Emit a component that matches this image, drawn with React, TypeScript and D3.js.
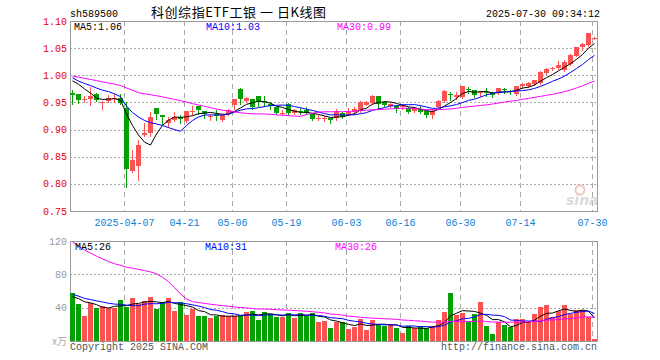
import React from "react";
import * as d3 from "d3";

// ---------- data ----------
const dates = [
  "2025-03-24","2025-03-25","2025-03-26","2025-03-27","2025-03-28","2025-03-31",
  "2025-04-01","2025-04-02","2025-04-03","2025-04-07","2025-04-08","2025-04-09","2025-04-10","2025-04-11",
  "2025-04-14","2025-04-15","2025-04-16","2025-04-17","2025-04-18","2025-04-21","2025-04-22","2025-04-23",
  "2025-04-24","2025-04-25","2025-04-28","2025-04-29","2025-04-30",
  "2025-05-06","2025-05-07","2025-05-08","2025-05-09","2025-05-12","2025-05-13","2025-05-14","2025-05-15",
  "2025-05-16","2025-05-19","2025-05-20","2025-05-21","2025-05-22","2025-05-23","2025-05-26","2025-05-27",
  "2025-05-28","2025-05-29","2025-05-30",
  "2025-06-03","2025-06-04","2025-06-05","2025-06-06","2025-06-09","2025-06-10","2025-06-11","2025-06-12",
  "2025-06-13","2025-06-16","2025-06-17","2025-06-18","2025-06-19","2025-06-20","2025-06-23","2025-06-24",
  "2025-06-25","2025-06-26","2025-06-27","2025-06-30",
  "2025-07-01","2025-07-02","2025-07-03","2025-07-04","2025-07-07","2025-07-08","2025-07-09","2025-07-10",
  "2025-07-11","2025-07-14","2025-07-15","2025-07-16","2025-07-17","2025-07-18","2025-07-21","2025-07-22",
  "2025-07-23","2025-07-24","2025-07-25","2025-07-28","2025-07-29","2025-07-30",
];

const open = [
  0.968,0.965,0.955,0.956,0.966,0.950,0.952,0.956,0.958,0.940,
  0.823,0.833,0.890,0.893,0.940,0.927,0.912,0.917,0.924,0.916,
  0.932,0.943,0.934,0.924,0.929,0.917,0.928,0.946,0.975,0.953,
  0.957,0.961,0.952,0.948,0.941,0.929,0.947,0.930,0.935,0.936,
  0.928,0.920,0.921,0.921,0.922,0.930,0.928,0.932,0.935,0.946,
  0.949,0.961,0.951,0.943,0.944,0.943,0.940,0.935,0.938,0.934,
  0.926,0.942,0.952,0.966,0.960,0.960,0.974,0.972,0.967,0.969,
  0.968,0.968,0.975,0.971,0.966,0.980,0.981,0.984,0.985,1.005,
  1.012,1.013,1.010,1.021,1.036,1.052,1.056,1.068,
];
const high = [
  0.972,0.966,0.962,0.978,0.968,0.953,0.964,0.965,0.965,0.950,
  0.862,0.881,0.912,0.932,0.940,0.927,0.924,0.933,0.926,0.935,
  0.943,0.944,0.934,0.929,0.936,0.928,0.938,0.957,0.976,0.960,
  0.957,0.962,0.961,0.951,0.942,0.936,0.949,0.938,0.940,0.941,
  0.929,0.926,0.925,0.922,0.937,0.932,0.940,0.941,0.952,0.952,
  0.963,0.962,0.953,0.949,0.946,0.948,0.941,0.942,0.943,0.935,
  0.937,0.954,0.972,0.970,0.969,0.981,0.978,0.973,0.971,0.976,
  0.969,0.977,0.977,0.973,0.981,0.985,0.987,0.992,1.008,1.013,
  1.016,1.026,1.029,1.039,1.053,1.059,1.077,1.070,
];
const low = [
  0.947,0.949,0.950,0.945,0.952,0.937,0.950,0.951,0.947,0.794,
  0.822,0.807,0.888,0.889,0.920,0.911,0.905,0.915,0.912,0.914,
  0.928,0.929,0.921,0.917,0.917,0.915,0.926,0.938,0.948,0.951,
  0.937,0.943,0.944,0.937,0.928,0.926,0.928,0.929,0.929,0.928,
  0.917,0.917,0.915,0.913,0.917,0.922,0.926,0.929,0.932,0.945,
  0.948,0.938,0.944,0.941,0.932,0.938,0.931,0.933,0.930,0.923,
  0.922,0.941,0.951,0.955,0.957,0.958,0.967,0.960,0.961,0.961,
  0.960,0.966,0.968,0.965,0.964,0.977,0.979,0.983,0.984,1.003,
  1.010,1.011,1.008,1.019,1.035,1.046,1.054,1.066,
];
const close = [
  0.964,0.954,0.956,0.962,0.954,0.951,0.958,0.959,0.949,0.827,
  0.844,0.871,0.893,0.923,0.928,0.924,0.918,0.923,0.919,0.934,
  0.934,0.936,0.929,0.925,0.925,0.926,0.936,0.956,0.956,0.958,
  0.941,0.951,0.950,0.943,0.930,0.9305,0.930,0.936,0.932,0.931,
  0.920,0.921,0.922,0.917,0.935,0.924,0.933,0.938,0.951,0.951,
  0.961,0.948,0.946,0.948,0.938,0.944,0.933,0.940,0.932,0.926,
  0.935,0.953,0.971,0.964,0.964,0.980,0.972,0.964,0.969,0.967,
  0.964,0.976,0.972,0.970,0.980,0.984,0.985,0.991,1.006,1.012,
  1.013,1.019,1.025,1.037,1.052,1.058,1.077,1.069,
];
const volume = [
  57.6,44.4,30,46,40,42,40,40,49,41,
  51.6,44,48,52.8,38.4,46.8,51.6,36,46.8,31.2,
  38.4,30,30,28,30,31,30,30,30,35,
  36,25.6,35,32,29,29,33.6,28,33.6,30,
  33.6,23,24,16,23,23,14,16.8,26,13,
  25,19,18,20,15.6,9.6,17.6,15.6,17.6,15.6,
  18,25,34.8,57.6,31.2,33.6,22.8,32.4,46.8,18,
  8.4,22.8,19.2,16.8,26.4,26.4,22.8,32.4,40.8,43.2,
  28.8,36,43.2,32.4,37.2,37.2,28.8,2.4,
];
// sessions before the visible window (estimated from the moving-average lines)
const priorClose = [
  1.02,1.02,1.02,1.02,1.02,1.02,1.02,1.025,0.965,0.975,
  1.0,0.955,0.975,0.98,0.99,0.99,0.99,0.99,1.015,1.015,
  1.015,1.0,1.0,1.0,0.99,0.985,1.0,1.0,1.0,
];
const priorVolume = [
  190,170,160,150,140,140,115,105,110,90,
  85,90,100,110,170,210,250,270,220,130,
  65,58,60,55,56,55,50,52,51,
];

const tickDates = ["2025-04-07","2025-04-21","2025-05-06","2025-05-19","2025-06-03","2025-06-16","2025-06-30","2025-07-14","2025-07-30"];
const tickLabels = ["2025-04-07","04-21","05-06","05-19","06-03","06-16","06-30","07-14","07-30"];
const priceTicks = [0.75,0.80,0.85,0.90,0.95,1.00,1.05,1.10];
const volumeTicks = [40,80,120];
const maPeriods = [5,10,30];
const maNames = ["MA5","MA10","MA30"];
const priceMaText = ["1.06","1.03","0.99"];
const volumeMaText = ["26","31","26"];

// ---------- styling ----------
const W = 660, H = 360;
const LEFT = 70, RIGHT = 598;
const P_TOP = 21, P_BOT = 211, V_TOP = 241, V_BOT = 341;
const RED = "#fb5252", GREEN = "#04a004";
const MA_COLORS = ["#000000", "#0000ff", "#ff00ff"];
const MONO = "'Liberation Mono','DejaVu Sans Mono',monospace";
const GRID = "#a8a8a8";

function movingAverage(prior: number[], values: number[], n: number) {
  const all = prior.concat(values);
  return values.map((_, i) => {
    const k = i + prior.length;
    return d3.mean(all.slice(k - n + 1, k + 1)) as number;
  });
}

export default function App() {
  const x = d3.scaleBand<string>().domain(dates).range([LEFT, RIGHT]).padding(0);
  const y = d3.scaleLinear().domain([0.75, 1.1]).range([P_BOT, P_TOP]);
  const yv = d3.scaleLinear().domain([0, 120]).range([V_BOT, V_TOP]);
  const cx = (d: string) => (x(d) as number) + 2.5;

  const priceMAs = maPeriods.map((n) => movingAverage(priorClose, close, n));
  const volMAs = maPeriods.map((n) => movingAverage(priorVolume, volume, n));

  const lineP = d3.line<number>().x((_, i) => cx(dates[i])).y((v) => y(v));
  const lineV = d3.line<number>().x((_, i) => cx(dates[i])).y((v) => yv(v));

  const crisp = (v: number) => Math.round(v) + 0.5;

  return (
    <svg width={W} height={H} style={{ position: "absolute", left: 0, top: 0, background: "#fff" }}
      xmlns="http://www.w3.org/2000/svg">
      <rect x={0} y={0} width={W} height={H} fill="#fff" />

      {/* header */}
      <text x={70} y={17} fontFamily={MONO} fontSize={10} fill="#000">sh589500</text>
      <text x={151} y={17} fontFamily="'Noto Sans CJK SC',sans-serif" fontSize={13} fill="#000"
        textLength={175} lengthAdjust="spacing" xmlSpace="preserve">科创综指ETF工银 一 日K线图</text>
      <text x={600} y={17} fontFamily={MONO} fontSize={10} fill="#000" textAnchor="end">2025-07-30 09:34:12</text>

      {/* horizontal grids */}
      {priceTicks.slice(1, -1).map((t) => (
        <line key={"pg" + t} x1={LEFT} x2={RIGHT} y1={crisp(y(t))} y2={crisp(y(t))}
          stroke={GRID} strokeDasharray="2,2" />
      ))}
      {volumeTicks.slice(0, -1).map((t) => (
        <line key={"vg" + t} x1={LEFT} x2={RIGHT} y1={crisp(yv(t))} y2={crisp(yv(t))}
          stroke={GRID} strokeDasharray="2,2" />
      ))}
      {/* vertical grids */}
      {tickDates.map((d) => (
        <g key={"vx" + d}>
          <line x1={(x(d) as number) + 0.5} x2={(x(d) as number) + 0.5} y1={P_TOP} y2={P_BOT}
            stroke={GRID} strokeDasharray="5,4" />
          <line x1={(x(d) as number) + 0.5} x2={(x(d) as number) + 0.5} y1={V_TOP} y2={V_BOT}
            stroke={GRID} strokeDasharray="5,4" />
        </g>
      ))}

      {/* frames */}
      <rect x={LEFT + 0.5} y={P_TOP + 0.5} width={RIGHT - LEFT - 1} height={P_BOT - P_TOP} fill="none" stroke="#999" />
      <rect x={LEFT + 0.5} y={V_TOP + 0.5} width={RIGHT - LEFT - 1} height={V_BOT - V_TOP} fill="none" stroke="#999" />

      {/* y labels */}
      {priceTicks.map((t) => (
        <text key={"pl" + t} x={67} y={y(t)} dy="0.35em" textAnchor="end" fontFamily={MONO}
          fontSize={10} fill="#e80000">{t.toFixed(2)}</text>
      ))}
      {volumeTicks.map((t) => (
        <text key={"vl" + t} x={67} y={yv(t)} dy="0.35em" textAnchor="end" fontFamily={MONO}
          fontSize={10} fill="#999">{t}</text>
      ))}
      <text x={67} y={yv(0)} dy="0.35em" textAnchor="end" fontFamily="'Noto Sans CJK SC',sans-serif"
        fontSize={10} fill="#aaa">x万</text>

      {/* x labels */}
      {tickDates.map((d, i) => (
        <text key={"xl" + d} x={(x(d) as number) + 0.5} y={226} textAnchor="middle" fontFamily={MONO}
          fontSize={10} fill="#0a82d2">{tickLabels[i]}</text>
      ))}

      {/* watermark */}
      <g opacity={0.75}>
        <circle cx={580} cy={190} r={4.5} fill="none" stroke="#f2b3b3" strokeWidth={2} />
        <text x={566} y={205} fontFamily="'DejaVu Sans',sans-serif" fontStyle="italic" fontWeight="bold"
          fontSize={14} fill="#cfcfcf">sina</text>
      </g>

      {/* candles */}
      {dates.map((d, i) => {
        const up = close[i] >= open[i];
        const col = up ? RED : GREEN;
        const top = Math.round(y(Math.max(open[i], close[i])));
        const bot = Math.round(y(Math.min(open[i], close[i])));
        const bx = x(d) as number;
        return (
          <g key={"c" + d}>
            <line x1={bx + 2.5} x2={bx + 2.5} y1={Math.round(y(high[i]))} y2={Math.round(y(low[i])) + 1}
              stroke={col} />
            <rect x={bx} y={top} width={5} height={Math.max(1, bot - top)} fill={col} />
          </g>
        );
      })}

      {/* volume bars */}
      {dates.map((d, i) => {
        const up = close[i] >= open[i];
        const top = Math.round(yv(volume[i]));
        return (
          <rect key={"v" + d} x={x(d) as number} y={top} width={5} height={V_BOT - top}
            fill={up ? RED : GREEN} />
        );
      })}

      {/* moving averages */}
      {priceMAs.map((s, k) => (
        <path key={"pma" + k} d={lineP(s) as string} fill="none" stroke={MA_COLORS[k]} strokeWidth={1} />
      ))}
      {volMAs.map((s, k) => (
        <path key={"vma" + k} d={lineV(s) as string} fill="none" stroke={MA_COLORS[k]} strokeWidth={1} />
      ))}

      {/* legends */}
      {maNames.map((n, k) => (
        <text key={"pleg" + n} x={[74, 206, 337][k]} y={30} fontFamily={MONO} fontSize={10}
          fill={MA_COLORS[k]}>{n + ":" + priceMaText[k]}</text>
      ))}
      {maNames.map((n, k) => (
        <text key={"vleg" + n} x={[75, 205, 335][k]} y={250} fontFamily={MONO} fontSize={10}
          fill={MA_COLORS[k]}>{n + ":" + volumeMaText[k]}</text>
      ))}

      {/* footer */}
      <text x={70} y={349.5} fontFamily={MONO} fontSize={10} fill="#555">Copyright 2025 SINA.COM</text>
      <text x={597} y={349.5} fontFamily={MONO} fontSize={10} fill="#555" textAnchor="end">http://finance.sina.com.cn</text>
    </svg>
  );
}
